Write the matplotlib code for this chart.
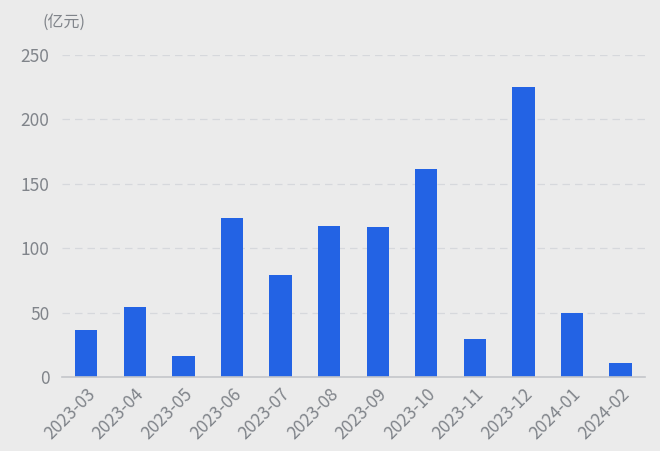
import matplotlib
matplotlib.use('Agg')
import matplotlib.pyplot as plt

plt.rcParams['font.family'] = ['Noto Sans CJK SC', 'DejaVu Sans']

# 月份与金额(亿元)
months = ['2023-03', '2023-04', '2023-05', '2023-06', '2023-07', '2023-08',
          '2023-09', '2023-10', '2023-11', '2023-12', '2024-01', '2024-02']
values = [36.5, 54.3, 16.3, 123.4, 79.2, 117.2, 116.5, 161.5, 29.5, 225.2, 49.7, 10.9]
y_ticks = [0, 50, 100, 150, 200, 250]
unit_label = '(亿元)'

bg = '#ebebeb'
bar_color = '#2363e4'
text_color = '#80848a'

fig = plt.figure(figsize=(6.6, 4.51), dpi=100, facecolor=bg)
ax = fig.add_axes([0.094, 0.164, 0.883, 0.714], facecolor=bg)

x = range(len(months))
ax.bar(x, values, width=0.46, color=bar_color, zorder=3)

ax.set_xlim(-0.5, len(months) - 0.5)
ax.set_ylim(0, 250)
ax.set_yticks(y_ticks)
ax.set_xticks(list(x))
ax.set_xticklabels(months, rotation=45, ha='right', rotation_mode='anchor')

ax.grid(axis='y', color='#d6d8dc', linestyle=(0, (6, 4)), linewidth=0.9, zorder=0)
for s in ['top', 'right', 'left']:
    ax.spines[s].set_visible(False)
ax.spines['bottom'].set_color('#c4c6ca')
ax.spines['bottom'].set_linewidth(1.2)
ax.spines['bottom'].set_zorder(4)

ax.tick_params(axis='y', length=0, pad=9, labelsize=12.5, labelcolor=text_color)
ax.tick_params(axis='x', length=0, pad=6, labelsize=12.5, labelcolor=text_color)

fig.text(0.097, 0.95, unit_label, ha='center', va='center', fontsize=11.5, color=text_color)

fig.savefig('out.png', dpi=100, facecolor=bg)
